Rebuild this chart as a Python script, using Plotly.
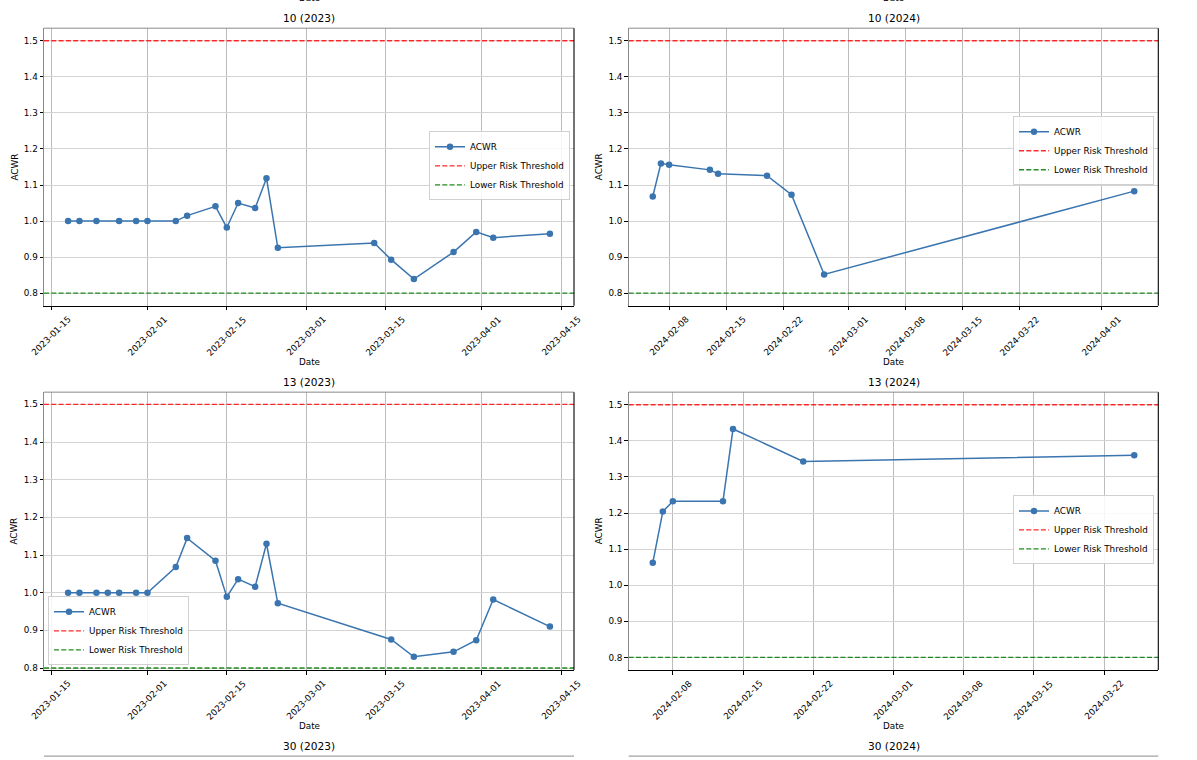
import plotly.graph_objects as go
import pandas as pd

W, H = 1197, 760

# ---------------- data ----------------
titles = ["10 (2023)", "10 (2024)", "13 (2023)", "13 (2024)"]

dates_10_2023 = ["2023-01-18", "2023-01-20", "2023-01-23", "2023-01-27", "2023-01-30", "2023-02-01",
                 "2023-02-06", "2023-02-08", "2023-02-13", "2023-02-15", "2023-02-17", "2023-02-20",
                 "2023-02-22", "2023-02-24", "2023-03-13", "2023-03-16", "2023-03-20", "2023-03-27",
                 "2023-03-31", "2023-04-03", "2023-04-13"]
acwr_10_2023 = [1.0, 1.0, 1.0, 1.0, 1.0, 1.0, 1.0, 1.015, 1.041, 0.982, 1.050, 1.036,
                1.119, 0.926, 0.939, 0.893, 0.839, 0.914, 0.970, 0.954, 0.965]

dates_10_2024 = ["2024-02-06", "2024-02-07", "2024-02-08", "2024-02-13", "2024-02-14", "2024-02-20",
                 "2024-02-23", "2024-02-27", "2024-04-05"]
acwr_10_2024 = [1.068, 1.160, 1.156, 1.142, 1.131, 1.126, 1.073, 0.852, 1.083]

dates_13_2023 = ["2023-01-18", "2023-01-20", "2023-01-23", "2023-01-25", "2023-01-27", "2023-01-30",
                 "2023-02-01", "2023-02-06", "2023-02-08", "2023-02-13", "2023-02-15", "2023-02-17",
                 "2023-02-20", "2023-02-22", "2023-02-24", "2023-03-16", "2023-03-20", "2023-03-27",
                 "2023-03-31", "2023-04-03", "2023-04-13"]
acwr_13_2023 = [1.0, 1.0, 1.0, 1.0, 1.0, 1.0, 1.0, 1.068, 1.145, 1.085, 0.989, 1.036,
                1.016, 1.130, 0.972, 0.876, 0.830, 0.843, 0.874, 0.982, 0.910]

dates_13_2024 = ["2024-02-06", "2024-02-07", "2024-02-08", "2024-02-13", "2024-02-14", "2024-02-21",
                 "2024-03-25"]
acwr_13_2024 = [1.062, 1.204, 1.233, 1.233, 1.433, 1.343, 1.360]

upper_threshold = 1.5
lower_threshold = 0.8

ticks_2023 = ["2023-01-15", "2023-02-01", "2023-02-15", "2023-03-01", "2023-03-15", "2023-04-01", "2023-04-15"]
ticks_10_2024 = ["2024-02-08", "2024-02-15", "2024-02-22", "2024-03-01", "2024-03-08", "2024-03-15",
                 "2024-03-22", "2024-04-01"]
ticks_13_2024 = ["2024-02-08", "2024-02-15", "2024-02-22", "2024-03-01", "2024-03-08", "2024-03-15",
                 "2024-03-22"]
y_ticks = [0.8, 0.9, 1.0, 1.1, 1.2, 1.3, 1.4, 1.5]

bottom_titles = ["30 (2023)", "30 (2024)"]

# ---------------- layout (pixel boxes) ----------------
col_x = [(44.0, 574.0), (628.7, 1158.3)]
row_y = [(28.3, 307.0), (393.7, 672.7)]
y_ranges = [[0.765, 1.535], [0.765, 1.535], [0.7947, 1.5325], [0.765, 1.535]]
legend_pos = [  # (x px, y px, xanchor, yanchor)
    (570, 166.5, "right", "middle"),
    (1154, 186, "right", "bottom"),
    (48, 668, "left", "bottom"),
    (1154, 532, "right", "middle"),
]

panels = [
    (dates_10_2023, acwr_10_2023, ticks_2023),
    (dates_10_2024, acwr_10_2024, ticks_10_2024),
    (dates_13_2023, acwr_13_2023, ticks_2023),
    (dates_13_2024, acwr_13_2024, ticks_13_2024),
]

FONT = "DejaVu Sans"
LINE_BLUE = "#3a75b0"
RED = "rgba(255,20,20,0.9)"
GREEN = "rgba(10,128,10,0.9)"


def px(x):
    return x / W


def py(y):
    return 1 - y / H


fig = go.Figure()
annotations = []
shapes = []

for i, (dts, vals, tks) in enumerate(panels):
    r, c = divmod(i, 2)
    n = i + 1
    xa = "x" if n == 1 else f"x{n}"
    ya = "y" if n == 1 else f"y{n}"
    xkey = "xaxis" if n == 1 else f"xaxis{n}"
    ykey = "yaxis" if n == 1 else f"yaxis{n}"
    leg = "legend" if n == 1 else f"legend{n}"

    d = pd.to_datetime(dts)
    span = d.max() - d.min()
    xr = [d.min() - span * 0.05, d.max() + span * 0.05]

    fig.add_trace(go.Scatter(
        x=d, y=vals, mode="lines+markers", name="ACWR",
        line=dict(color=LINE_BLUE, width=1.5),
        marker=dict(color=LINE_BLUE, size=6.5),
        xaxis=xa, yaxis=ya, legend=leg, showlegend=True))
    fig.add_trace(go.Scatter(
        x=xr, y=[upper_threshold, upper_threshold], mode="lines", name="Upper Risk Threshold",
        line=dict(color=RED, width=1.4, dash="5px,2.3px"),
        xaxis=xa, yaxis=ya, legend=leg, showlegend=True))
    fig.add_trace(go.Scatter(
        x=xr, y=[lower_threshold, lower_threshold], mode="lines", name="Lower Risk Threshold",
        line=dict(color=GREEN, width=1.4, dash="5px,2.3px"),
        xaxis=xa, yaxis=ya, legend=leg, showlegend=True))

    x0, x1 = col_x[c]
    y0, y1 = row_y[r]
    fig.update_layout({
        xkey: dict(domain=[px(x0), px(x1)], anchor=ya, type="date", range=xr,
                   tickvals=pd.to_datetime(tks), showticklabels=False,
                   ticks="outside", ticklen=3.5, tickwidth=0.8, tickcolor="#000",
                   showgrid=True, gridcolor="#bcbcbc", gridwidth=0.8,
                   showline=True, linecolor="#000", linewidth=1.1, zeroline=False),
        ykey: dict(domain=[py(y1), py(y0)], anchor=xa, range=y_ranges[i],
                   tickvals=y_ticks, ticktext=[f"{v:.1f}" for v in y_ticks],
                   ticks="outside", ticklen=3.5, tickwidth=0.8, tickcolor="#000",
                   tickfont=dict(family=FONT, size=8.8, color="#000"),
                   showgrid=True, gridcolor="#d4d4d4", gridwidth=0.8,
                   showline=True, linecolor="#8a8a8a", linewidth=1.0, zeroline=False),
    })
    # top & right spines
    shapes.append(dict(type="line", xref=f"{xa} domain", yref=f"{ya} domain", x0=0, x1=1, y0=1, y1=1,
                       line=dict(color="#8a8a8a", width=1.0), layer="above"))
    shapes.append(dict(type="line", xref=f"{xa} domain", yref=f"{ya} domain", x0=1, x1=1, y0=0, y1=1,
                       line=dict(color="#000", width=1.1), layer="above"))

    # rotated x tick labels, centred on the tick like matplotlib
    for t in tks:
        annotations.append(dict(x=pd.to_datetime(t), y=0, xref=xa, yref=f"{ya} domain",
                                text=t, showarrow=False, textangle=-45,
                                xanchor="center", yanchor="top", yshift=-6,
                                font=dict(family=FONT, size=8.8, color="#000")))
    # title
    annotations.append(dict(x=px((x0 + x1) / 2), y=py(y0 - 10), xref="paper", yref="paper",
                            text=titles[i], showarrow=False, xanchor="center", yanchor="middle",
                            font=dict(family=FONT, size=10.6, color="#000")))
    # axis labels
    annotations.append(dict(x=px((x0 + x1) / 2), y=py(y1 + 56.5), xref="paper", yref="paper",
                            text="Date", showarrow=False, xanchor="center", yanchor="middle",
                            font=dict(family=FONT, size=8.8, color="#000")))
    annotations.append(dict(x=px(x0 - 29.5), y=py((y0 + y1) / 2), xref="paper", yref="paper",
                            text="ACWR", showarrow=False, textangle=-90, xanchor="center", yanchor="middle",
                            font=dict(family=FONT, size=8.8, color="#000")))

    lx, ly, lxa, lya = legend_pos[i]
    fig.update_layout({leg: dict(x=px(lx), y=py(ly), xanchor=lxa, yanchor=lya, xref="paper", yref="paper",
                                 bgcolor="rgba(255,255,255,0.85)", bordercolor="#d0d0d0", borderwidth=1,
                                 font=dict(family=FONT, size=8.8, color="#000"),
                                 itemwidth=30, tracegroupgap=0)})

# cut-off elements from neighbouring rows of the original figure
row_step = row_y[1][0] - row_y[0][0]
for c in range(2):
    x0, x1 = col_x[c]
    annotations.append(dict(x=px((x0 + x1) / 2), y=py(row_y[0][1] - row_step + 56.5), xref="paper", yref="paper",
                            text="Date", showarrow=False, xanchor="center", yanchor="middle",
                            font=dict(family=FONT, size=8.8, color="#000")))
    annotations.append(dict(x=px((x0 + x1) / 2), y=py(row_y[1][0] + row_step - 10), xref="paper", yref="paper",
                            text=bottom_titles[c], showarrow=False, xanchor="center", yanchor="middle",
                            font=dict(family=FONT, size=10.6, color="#000")))
    shapes.append(dict(type="line", xref="paper", yref="paper", x0=px(x0), x1=px(x1),
                       y0=py(row_y[1][0] + row_step), y1=py(row_y[1][0] + row_step),
                       line=dict(color="#8a8a8a", width=1.0)))

fig.update_layout(
    width=W, height=H, margin=dict(l=0, r=0, t=0, b=0),
    paper_bgcolor="#fff", plot_bgcolor="#fff",
    font=dict(family=FONT, size=8.8, color="#000"),
    annotations=annotations, shapes=shapes,
)

fig.write_html("out.html")
